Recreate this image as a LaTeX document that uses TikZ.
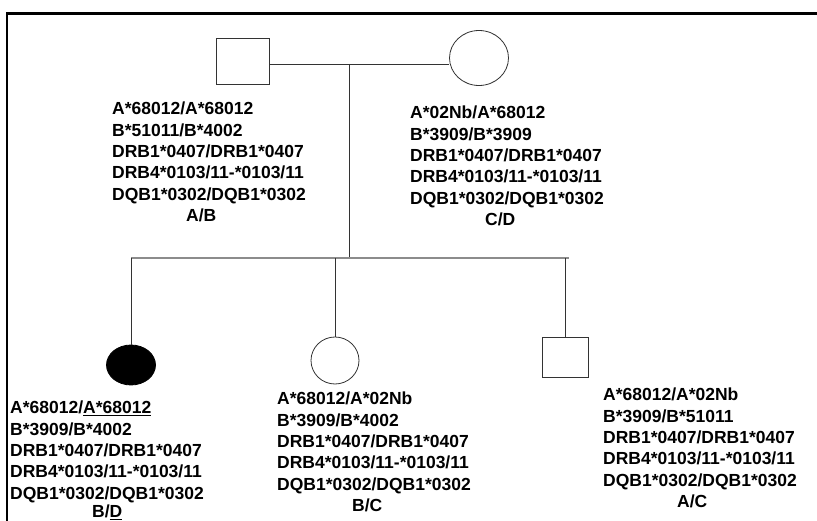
\documentclass[tikz,border=0pt]{standalone}
\usepackage{fontspec}
\setmainfont{Liberation Sans}
\usetikzlibrary{shapes.geometric}

\begin{document}
\begin{tikzpicture}[x=1pt, y=-1pt,
    person/.style={draw=black!80, line width=0.8pt, inner sep=0pt},
    male/.style={person, rectangle},
    female/.style={person, ellipse},
    affected/.style={fill=black, draw=black},
    link/.style={draw=black!80, line width=0.8pt},
    sibline/.style={draw=black!45, line width=1.2pt},
    hla/.style={anchor=north west, inner sep=0pt, align=left,
        font=\fontsize{17.5}{21.3}\selectfont\bfseries}]

    \useasboundingbox (0,0) rectangle (817,521);

    % Frame
    \draw[line width=2.5pt] (7,530) -- (7,13.5) -- (830,13.5);

    % Parents
    \node[male, minimum width=53pt, minimum height=46pt] (father) at (242.5,61) {};
    \node[female, minimum width=59pt, minimum height=55pt] (mother) at (479,58) {};
    \coordinate (mate) at (349,64);
    \draw[link] (father.east |- mate) -- (mother.west |- mate);

    % Sibship
    \coordinate (sib) at (349,258);
    \coordinate (sibR) at (569,258);
    \draw[link] (mate) -- (sib);

    % Children
    \node[female, affected, minimum width=49pt, minimum height=40pt] (child1) at (131,365) {};
    \node[female, minimum width=48pt, minimum height=47pt] (child2) at (335,360.5) {};
    \node[male, minimum width=46pt, minimum height=40pt] (child3) at (565,357) {};
    \draw[sibline] (child1.north |- sib) -- (sibR);
    \draw[link] (child1.north |- sib) -- (child1.north);
    \draw[link] (child2.north |- sib) -- (child2.north);
    \draw[link] (child3.north |- sib) -- (child3.north);

    % HLA haplotypes
    \node[hla] (fatherhla) at (112,102) {A*68012/A*68012\\B*51011/B*4002\\DRB1*0407/DRB1*0407\\DRB4*0103/11-*0103/11\\DQB1*0302/DQB1*0302\\\hspace*{74pt}A/B};
    \node[hla] (motherhla) at (410,106) {A*02Nb/A*68012\\B*3909/B*3909\\DRB1*0407/DRB1*0407\\DRB4*0103/11-*0103/11\\DQB1*0302/DQB1*0302\\\hspace*{75pt}C/D};
    \node[hla] (child1hla) at (10,401) {A*68012/\underline{A*68012}\\B*3909/B*4002\\DRB1*0407/DRB1*0407\\DRB4*0103/11-*0103/11\\DQB1*0302/DQB1*0302\\[-2.5pt]\hspace*{82pt}B/\underline{D}};
    \node[hla] (child2hla) at (277,392) {A*68012/A*02Nb\\B*3909/B*4002\\DRB1*0407/DRB1*0407\\DRB4*0103/11-*0103/11\\DQB1*0302/DQB1*0302\\\hspace*{75pt}B/C};
    \node[hla] (child3hla) at (603,388) {A*68012/A*02Nb\\B*3909/B*51011\\DRB1*0407/DRB1*0407\\DRB4*0103/11-*0103/11\\DQB1*0302/DQB1*0302\\\hspace*{74pt}A/C};

\end{tikzpicture}
\end{document}
